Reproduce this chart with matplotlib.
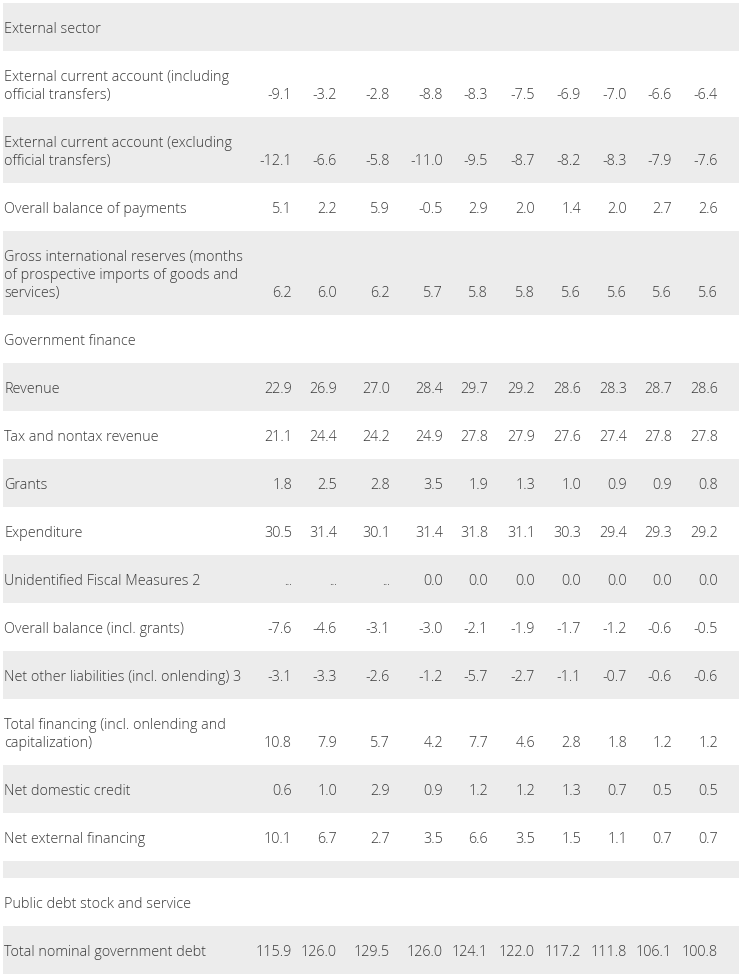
import matplotlib.pyplot as plt

# table rows: label (with line breaks) and values, None = header / spacer row
labels = [
    "External sector",
    "External current account (including\nofficial transfers)",
    "External current account (excluding\nofficial transfers)",
    "Overall balance of payments",
    "Gross international reserves (months\nof prospective imports of goods and\nservices)",
    "Government finance",
    "Revenue",
    "Tax and nontax revenue",
    "Grants",
    "Expenditure",
    "Unidentified Fiscal Measures 2",
    "Overall balance (incl. grants)",
    "Net other liabilities (incl. onlending) 3",
    "Total financing (incl. onlending and\ncapitalization)",
    "Net domestic credit",
    "Net external financing",
    "",
    "Public debt stock and service",
    "Total nominal government debt",
]

ext_incl = [-9.1, -3.2, -2.8, -8.8, -8.3, -7.5, -6.9, -7.0, -6.6, -6.4]
ext_excl = [-12.1, -6.6, -5.8, -11.0, -9.5, -8.7, -8.2, -8.3, -7.9, -7.6]
bop = [5.1, 2.2, 5.9, -0.5, 2.9, 2.0, 1.4, 2.0, 2.7, 2.6]
reserves = [6.2, 6.0, 6.2, 5.7, 5.8, 5.8, 5.6, 5.6, 5.6, 5.6]
revenue = [22.9, 26.9, 27.0, 28.4, 29.7, 29.2, 28.6, 28.3, 28.7, 28.6]
tax_nontax = [21.1, 24.4, 24.2, 24.9, 27.8, 27.9, 27.6, 27.4, 27.8, 27.8]
grants = [1.8, 2.5, 2.8, 3.5, 1.9, 1.3, 1.0, 0.9, 0.9, 0.8]
expenditure = [30.5, 31.4, 30.1, 31.4, 31.8, 31.1, 30.3, 29.4, 29.3, 29.2]
unidentified = [None, None, None, 0.0, 0.0, 0.0, 0.0, 0.0, 0.0, 0.0]
overall_bal = [-7.6, -4.6, -3.1, -3.0, -2.1, -1.9, -1.7, -1.2, -0.6, -0.5]
net_other = [-3.1, -3.3, -2.6, -1.2, -5.7, -2.7, -1.1, -0.7, -0.6, -0.6]
total_fin = [10.8, 7.9, 5.7, 4.2, 7.7, 4.6, 2.8, 1.8, 1.2, 1.2]
dom_credit = [0.6, 1.0, 2.9, 0.9, 1.2, 1.2, 1.3, 0.7, 0.5, 0.5]
ext_fin = [10.1, 6.7, 2.7, 3.5, 6.6, 3.5, 1.5, 1.1, 0.7, 0.7]
debt = [115.9, 126.0, 129.5, 126.0, 124.1, 122.0, 117.2, 111.8, 106.1, 100.8]

values = [None, ext_incl, ext_excl, bop, reserves, None, revenue, tax_nontax,
          grants, expenditure, unidentified, overall_bal, net_other, total_fin,
          dom_credit, ext_fin, None, None, debt]

# right edges of the value columns (pixels)
col_right = [292, 337, 390, 443, 488, 535, 581, 627, 672, 718]

W, H = 741, 975
fig = plt.figure(figsize=(W / 100, H / 100), dpi=100)
ax = fig.add_axes([0, 0, 1, 1])
ax.set_xlim(0, W)
ax.set_ylim(H, 0)
ax.axis('off')

fill = '#ececec'
txt = '#3a3a3a'
font = dict(family='Open Sans', size=10.4, weight='light', color=txt)

top = 3
for i, (lab, vals) in enumerate(zip(labels, values)):
    lines = lab.split('\n')
    h = 17 if lab == "" else 48 + 18 * (len(lines) - 1)
    # alternate grey / white row backgrounds
    if i % 2 == 0:
        ax.barh(top + h / 2, 736, left=3, height=h, color=fill, lw=0)
    if lab:
        for j, line in enumerate(lines):
            ax.text(4, top + 30 + 18 * j, line, va='baseline', ha='left', **font)
    if vals is not None:
        yb = top + 30 + 18 * (len(lines) - 1)
        for x, v in zip(col_right, vals):
            s = '...' if v is None else f"{v:.1f}"
            ax.text(x, yb, s, va='baseline', ha='right',
                    **(dict(font, size=7.5) if v is None else font))
    top += h

fig.savefig('out.png', dpi=100)
